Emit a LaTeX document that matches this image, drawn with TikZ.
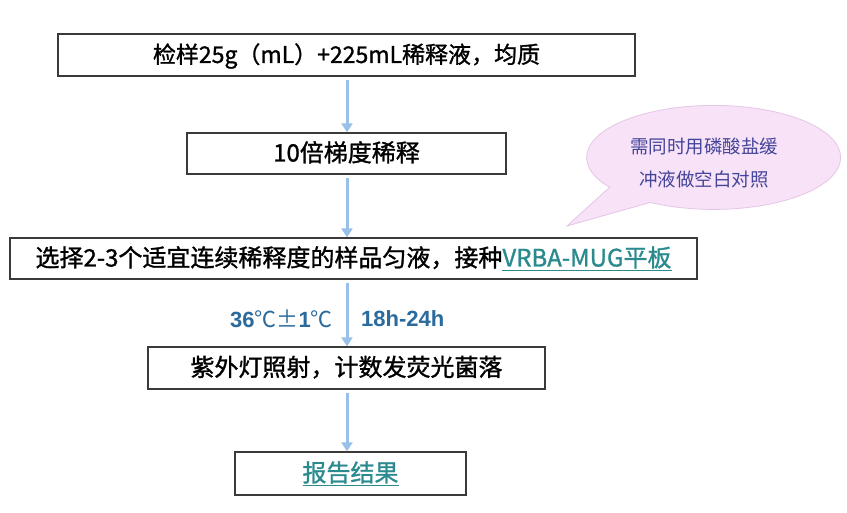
\documentclass[tikz,border=0pt]{standalone}
\usepackage{fontspec}
\setmainfont{Noto Sans CJK SC}
\newfontfamily\cjk{Noto Sans CJK SC}
\newfontfamily\boxfont{Noto Sans CJK SC}[FakeBold=1.2]
\newfontfamily\labfont{Liberation Sans}
\usetikzlibrary{arrows.meta}
\definecolor{boxline}{HTML}{3A3A3A}
\definecolor{arrowblue}{HTML}{98C0E8}
\definecolor{labblue}{HTML}{2B6A9C}
\definecolor{linkteal}{HTML}{2A8A8E}
\definecolor{bubblefill}{HTML}{F7E2F8}
\definecolor{bubbleline}{HTML}{E6C6E6}
\definecolor{bubbletext}{HTML}{444499}
\begin{document}
\begin{tikzpicture}[x=1pt,y=1pt,
  stepbox/.style={draw=boxline, line width=1.3pt, fill=white, inner sep=0pt,
    text height=20pt, text depth=4pt, font=\boxfont\fontsize{24}{28}\selectfont, text=black},
  flow/.style={draw=arrowblue, line width=3pt, -{Triangle[width=11pt,length=9pt]}, shorten <=3pt},
  lab/.style={text=labblue, font=\labfont\bfseries\fontsize{22}{26}\selectfont, inner sep=0pt},
  bubble/.style={fill=bubblefill, draw=bubbleline, line width=0.8pt}]
\useasboundingbox (0,0) rectangle (847,513);
\fill[white] (0,0) rectangle (847,513);
% boxes
\node[stepbox, minimum width=577pt, minimum height=42pt] (b1) at (346.5,458) {\fontsize{23}{28}\selectfont 检样25g（mL）+225mL稀释液，均质};
\node[stepbox, minimum width=319pt, minimum height=41pt] (b2) at (346.5,359.5) {10倍梯度稀释};
\node[stepbox, minimum width=687pt, minimum height=41pt] (b3) at (353.5,254.5) {选择2-3个适宜连续稀释度的样品匀液，接种\textcolor{linkteal}{\underline{VRBA-MUG平板}}};
\node[stepbox, minimum width=397pt, minimum height=42pt] (b4) at (346.5,145) {紫外灯照射，计数发荧光菌落};
\node[stepbox, minimum width=231pt, minimum height=43pt] (b5) at (350.5,39.5) {\textcolor{linkteal}{\underline{报告结果}}};
% arrows
\coordinate (ax) at (347,0);
\draw[flow] (b1.south -| ax) -- (b2.north -| ax);
\draw[flow] (b2.south -| ax) -- (b3.north -| ax);
\draw[flow] (b3.south -| ax) -- (b4.north -| ax);
\draw[flow] (b4.south -| ax) -- (b5.north -| ax);
% labels
\node[lab, anchor=east] (t1) at (333,194) {36{\cjk\mdseries ℃±}1{\cjk\mdseries ℃}};
\node[lab, anchor=west] (t2) at (361,194) {18h-24h};
% callout bubble
\draw[bubble] (567,287) -- (609.6,325.75) arc[start angle=215, end angle=-120, x radius=127pt, y radius=52pt] -- cycle;
\node[text=bubbletext, align=center, font=\fontsize{18.5}{33}\selectfont] (note) at (704,349.5) {需同时用磷酸盐缓\\冲液做空白对照};
\end{tikzpicture}
\end{document}
